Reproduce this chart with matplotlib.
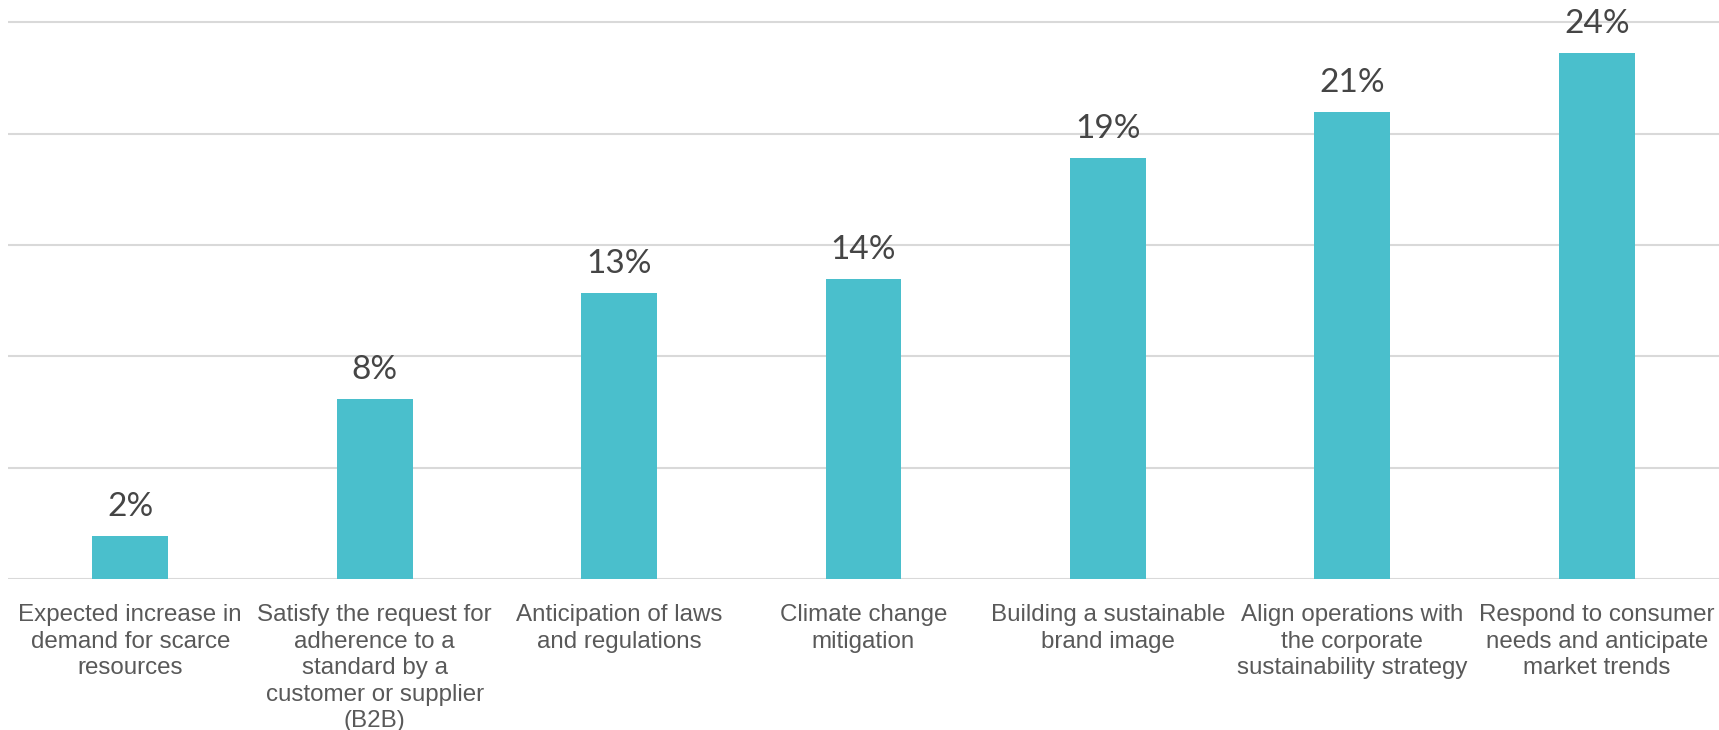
import matplotlib.pyplot as plt
import numpy as np

categories = [
    "Expected increase in\ndemand for scarce\nresources",
    "Satisfy the request for\nadherence to a\nstandard by a\ncustomer or supplier\n(B2B)",
    "Anticipation of laws\nand regulations",
    "Climate change\nmitigation",
    "Building a sustainable\nbrand image",
    "Align operations with\nthe corporate\nsustainability strategy",
    "Respond to consumer\nneeds and anticipate\nmarket trends",
]
values = [1.94, 8.08, 12.83, 13.49, 18.9, 20.97, 23.64]
labels = ["2%", "8%", "13%", "14%", "19%", "21%", "24%"]

fig = plt.figure(figsize=(17.19, 7.30), dpi=100)
ax = fig.add_axes([8 / 1719, 151 / 730, 1 - 8 / 1719, 1 - 151 / 730])

x = np.arange(len(values))
ax.bar(x, values, width=0.31, color="#4ABFCC", zorder=3)

for xi, v, lab in zip(x, values, labels):
    ax.annotate(lab, (xi, v), xytext=(0, 14.4), textcoords="offset points",
                ha="center", va="baseline", fontsize=24, color="#454545",
                family=["Lato", "DejaVu Sans"])

ax.set_xlim(-0.5, 6.5)
ax.set_ylim(0, 26)
ax.set_yticks(np.arange(0, 26, 5))
ax.yaxis.grid(True, color="#D9D9D9", linewidth=1.5, zorder=0)
ax.tick_params(axis="y", length=0, labelleft=False)
ax.tick_params(axis="x", length=0, pad=18)
ax.set_xticks(x)
ax.set_xticklabels(categories, fontsize=17.4, color="#595959",
                   family="Liberation Sans", linespacing=1.27, va="top")
for s in ax.spines.values():
    s.set_visible(False)

fig.savefig("out.png", dpi=100)
